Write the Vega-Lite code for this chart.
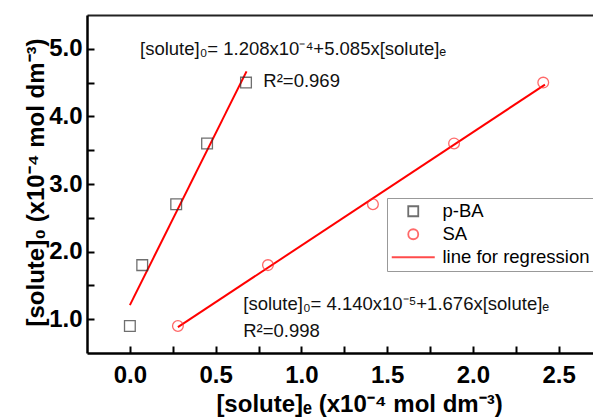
{
  "$schema": "https://vega.github.io/schema/vega-lite/v6.json",
  "width": 506,
  "height": 338,
  "autosize": "none",
  "padding": {"left": 87, "top": 15, "right": 0, "bottom": 66},
  "background": "white",
  "config": {
    "view": {"stroke": null},
    "font": "Liberation Sans",
    "axis": {"grid": false, "domainColor": "#000", "domainWidth": 2.5, "tickColor": "#000", "tickWidth": 2, "labelFont": "Liberation Sans", "titleFont": "Liberation Sans", "labelColor": "#000", "titleColor": "#000"}
  },
  "datasets": {
    "points": [
      {"series": "p-BA", "ce": 0.0, "c0": 0.9},
      {"series": "p-BA", "ce": 0.072, "c0": 1.8},
      {"series": "p-BA", "ce": 0.27, "c0": 2.7},
      {"series": "p-BA", "ce": 0.45, "c0": 3.6},
      {"series": "p-BA", "ce": 0.677, "c0": 4.5},
      {"series": "SA", "ce": 0.28, "c0": 0.9},
      {"series": "SA", "ce": 0.805, "c0": 1.8},
      {"series": "SA", "ce": 1.417, "c0": 2.7},
      {"series": "SA", "ce": 1.89, "c0": 3.6},
      {"series": "SA", "ce": 2.41, "c0": 4.5}
    ],
    "fits": [
      {"fit": "p-BA", "ce": 0.0, "c0": 1.208},
      {"fit": "p-BA", "ce": 0.68, "c0": 4.666},
      {"fit": "SA", "ce": 0.28, "c0": 0.883},
      {"fit": "SA", "ce": 2.42, "c0": 4.47}
    ],
    "notes": [
      {"ce": 0.059, "c0": 4.908, "label": "[solute]₀= 1.208x10⁻⁴+5.085x[solute]ₑ"},
      {"ce": 0.778, "c0": 4.439, "label": "R²=0.969"},
      {"ce": 0.661, "c0": 1.136, "label": "[solute]₀= 4.140x10⁻⁵+1.676x[solute]ₑ"},
      {"ce": 0.661, "c0": 0.741, "label": "R²=0.998"}
    ]
  },
  "layer": [
    {
      "data": {"name": "fits"},
      "mark": {"type": "line", "color": "#ff0000", "strokeWidth": 2},
      "encoding": {
        "x": {"field": "ce", "type": "quantitative", "axis": null},
        "y": {"field": "c0", "type": "quantitative"},
        "detail": {"field": "fit"}
      }
    },
    {
      "data": {"name": "points"},
      "mark": {"type": "point", "filled": false, "size": 115, "strokeWidth": 1.3},
      "encoding": {
        "x": {
          "field": "ce", "type": "quantitative",
          "scale": {"domain": [-0.25, 2.7], "nice": false, "zero": false},
          "axis": {
            "orient": "bottom",
            "values": [0, 0.25, 0.5, 0.75, 1, 1.25, 1.5, 1.75, 2, 2.25, 2.5],
            "labelExpr": "datum.value % 0.5 == 0 ? format(datum.value, '.1f') : ''",
            "tickSize": -7, "labelPadding": 17, "labelBaseline": "top",
            "labelFontSize": 24, "labelFontWeight": "bold",
            "title": "[solute]ₑ (x10⁻⁴ mol dm⁻³)",
            "titleFontSize": 24, "titleFontWeight": "bold",
            "titleX": 272, "titleY": 58, "titleBaseline": "alphabetic", "titleAnchor": "middle", "titleAlign": "center"
          }
        },
        "y": {
          "field": "c0", "type": "quantitative",
          "scale": {"domain": [0.5, 5.5], "nice": false, "zero": false},
          "axis": {
            "values": [1, 1.5, 2, 2.5, 3, 3.5, 4, 4.5, 5],
            "labelExpr": "datum.value % 1 == 0 ? format(datum.value, '.1f') : ''",
            "tickSize": -7, "labelPadding": 12,
            "labelFontSize": 24, "labelFontWeight": "bold",
            "title": "[solute]₀ (x10⁻⁴ mol dm⁻³)",
            "titleFontSize": 24, "titleFontWeight": "bold",
            "titleX": -44, "titleY": 167, "titleAngle": 270, "titleBaseline": "alphabetic", "titleAlign": "center", "titleAnchor": "middle"
          }
        },
        "color": {
          "field": "series", "type": "nominal",
          "scale": {"domain": ["p-BA", "SA", "line for regression"], "range": ["#333333", "#ff2a2a", "#ff0000"]},
          "legend": {
            "title": null, "orient": "none", "legendX": 300, "legendY": 183,
            "fillColor": "white", "strokeColor": "#999999", "padding": 4,
            "labelFont": "Liberation Sans", "labelFontSize": 18.5, "labelColor": "#000",
            "labelOffset": 20, "symbolOffset": 13, "symbolSize": 100, "symbolStrokeWidth": 1.8, "rowPadding": 4
          }
        },
        "shape": {
          "field": "series", "type": "nominal",
          "scale": {"domain": ["p-BA", "SA", "line for regression"], "range": ["square", "circle", "M-4.3,0H4.3"]}
        }
      }
    },
    {
      "data": {"name": "notes"},
      "mark": {"type": "text", "align": "left", "baseline": "alphabetic", "fontSize": 18.5, "font": "Liberation Sans", "color": "#111"},
      "encoding": {
        "x": {"field": "ce", "type": "quantitative", "axis": {"orient": "top", "domain": true, "domainWidth": 2, "domainColor": "#222", "ticks": false, "labels": false, "title": null}},
        "y": {"field": "c0", "type": "quantitative"},
        "text": {"field": "label"}
      }
    }
  ],
  "resolve": {"axis": {"x": "independent"}}
}
